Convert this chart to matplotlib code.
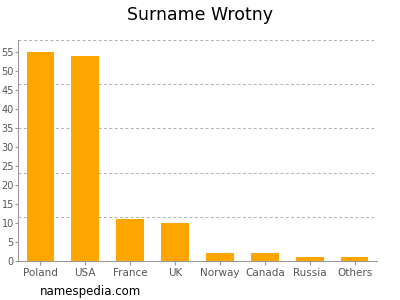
import numpy as np
import matplotlib.pyplot as plt

# data
countries = ['Poland', 'USA', 'France', 'UK', 'Norway', 'Canada', 'Russia', 'Others']
counts = [55, 54, 11, 10, 2, 2, 1, 1]
y_ticks = list(range(0, 60, 5))

ymax = 58.2
fig = plt.figure(figsize=(4, 3), dpi=100)
ax = fig.add_axes([18/400, 1 - 261/300, 359/400, 221/300])

x = np.arange(len(countries))
ax.bar(x, counts, width=0.62, color='#FFA500', zorder=2)
ax.set_xlim(-0.5, len(countries) - 0.5)
ax.set_ylim(0, ymax)

# dashed grid in five equal steps up to the top
for g in np.linspace(0, ymax, 6)[1:]:
    ax.axhline(g, color='#b0b0b0', lw=0.7, ls=(0, (3, 2.5)), zorder=1)

ax.set_xticks(x)
ax.set_xticklabels(countries)
ax.set_yticks(y_ticks)
ax.tick_params(axis='x', colors='#999999', labelcolor='#555555', labelsize=7.5, length=3, width=0.8, pad=2)
ax.tick_params(axis='y', colors='#999999', labelcolor='#555555', labelsize=7, length=2, width=0.8, pad=1)
for s in ['top', 'right']:
    ax.spines[s].set_visible(False)
for s in ['left', 'bottom']:
    ax.spines[s].set_color('#999999')
    ax.spines[s].set_linewidth(0.8)

fig.text(0.5, 1 - 15/300, 'Surname Wrotny', ha='center', va='center', fontsize=12.5, color='#000000')
fig.text(40/400, 1 - 291/300, 'namespedia.com', ha='left', va='center', fontsize=8.5, color='#000000')

fig.savefig('out.png', dpi=100)
